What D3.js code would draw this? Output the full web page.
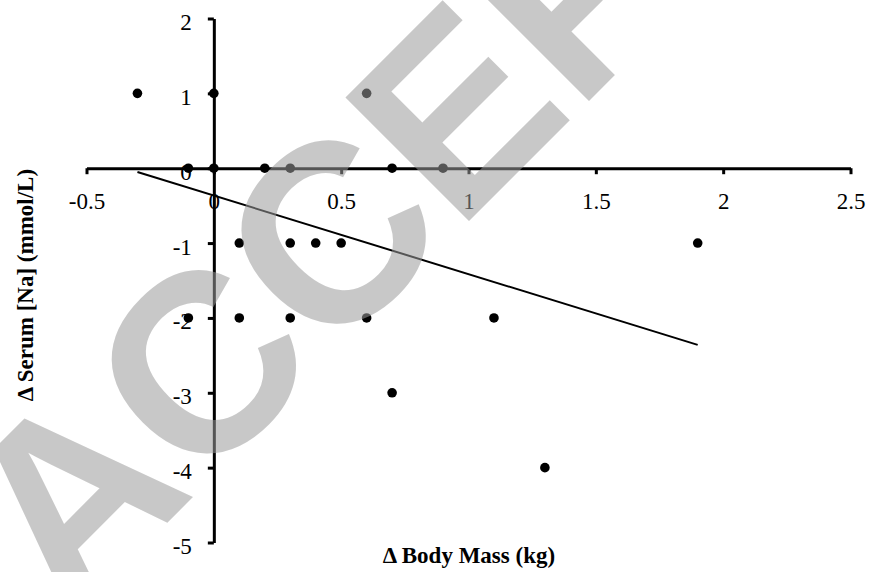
<!DOCTYPE html>
<html lang="en">
<head>
    <meta charset="UTF-8">
    <title>Serum Na vs Body Mass</title>
    <script src="https://d3js.org/d3.v7.min.js"></script>
    <style>
        body { margin: 0; background: #fff; }
        svg { display: block; }
        .tick text { font-family: "Liberation Serif", "Times New Roman", serif; }
    </style>
</head>
<body>
<div id="chart"></div>
<script>
// data
const massChange = [-0.3, 0, 0.6,
                    -0.1, 0, 0.2, 0.3, 0.7, 0.9,
                    0.1, 0.3, 0.4, 0.5, 1.9,
                    -0.1, 0.1, 0.3, 0.6, 1.1,
                    0.7, 1.3];
const naChange = [1, 1, 1,
                  0, 0, 0, 0, 0, 0,
                  -1, -1, -1, -1, -1,
                  -2, -2, -2, -2, -2,
                  -3, -4];
// linear trendline end points
const trendX = [-0.3, 1.9];
const trendY = [-0.05, -2.36];

const xTicks = [-0.5, 0, 0.5, 1, 1.5, 2, 2.5];
const yTicks = [2, 1, 0, -1, -2, -3, -4, -5];

const width = 870, height = 572;
const svg = d3.select("#chart").append("svg")
    .attr("width", width)
    .attr("height", height);

svg.append("rect").attr("width", width).attr("height", height).attr("fill", "#fff");

const x = d3.scaleLinear().domain([-0.5, 2.5]).range([86.5, 850.5]);
const y = d3.scaleLinear().domain([-5, 2]).range([542.5, 18.5]);

// x axis crosses at y = 0
const xAxis = svg.append("g")
    .attr("transform", `translate(0,${y(0)})`)
    .call(d3.axisBottom(x).tickValues(xTicks).tickSize(6).tickSizeOuter(0)
        .tickFormat(d => d));
xAxis.selectAll("path, line").attr("stroke", "#000").attr("stroke-width", 3);
xAxis.selectAll("text")
    .attr("y", 41).attr("dy", 0)
    .attr("font-size", 23).attr("fill", "#000");

// y axis crosses at x = 0
const yAxis = svg.append("g")
    .attr("transform", `translate(${x(0)},0)`)
    .call(d3.axisLeft(y).tickValues(yTicks).tickSize(6).tickSizeOuter(0)
        .tickFormat(d => d));
yAxis.selectAll("path, line").attr("stroke", "#000").attr("stroke-width", 3);
yAxis.selectAll("text")
    .attr("x", -22).attr("dy", "0.48em")
    .attr("font-size", 23).attr("fill", "#000");

svg.selectAll(".domain").attr("fill", "none");

// trendline
const line = d3.line().x(d => x(d[0])).y(d => y(d[1]));
svg.append("path")
    .datum(d3.zip(trendX, trendY))
    .attr("d", line)
    .attr("fill", "none")
    .attr("stroke", "#000")
    .attr("stroke-width", 2);

// points
svg.selectAll(".dot")
    .data(d3.zip(massChange, naChange))
    .enter().append("circle")
    .attr("class", "dot")
    .attr("cx", d => x(d[0]))
    .attr("cy", d => y(d[1]))
    .attr("r", 4.8)
    .attr("fill", "#000");

// axis titles
svg.append("text")
    .attr("x", 469).attr("y", 563)
    .attr("text-anchor", "middle")
    .attr("font-family", "Liberation Serif, Times New Roman, serif")
    .attr("font-weight", "bold")
    .attr("font-size", 23)
    .text("\u0394 Body Mass (kg)");

svg.append("text")
    .attr("transform", "translate(33,285) rotate(-90)")
    .attr("text-anchor", "middle")
    .attr("font-family", "Liberation Serif, Times New Roman, serif")
    .attr("font-weight", "bold")
    .attr("font-size", 23)
    .text("\u0394 Serum [Na] (mmol/L)");

// "ACCEPTED" watermark laid over the chart
svg.append("text")
    .attr("transform", "translate(68,622) rotate(-45)")
    .attr("font-family", "Liberation Sans, Arial, sans-serif")
    .attr("font-weight", "bold")
    .attr("font-size", 254)
    .attr("fill", "rgb(155,155,155)")
    .attr("fill-opacity", 0.55)
    .text("ACCEPTED");
</script>
</body>
</html>
